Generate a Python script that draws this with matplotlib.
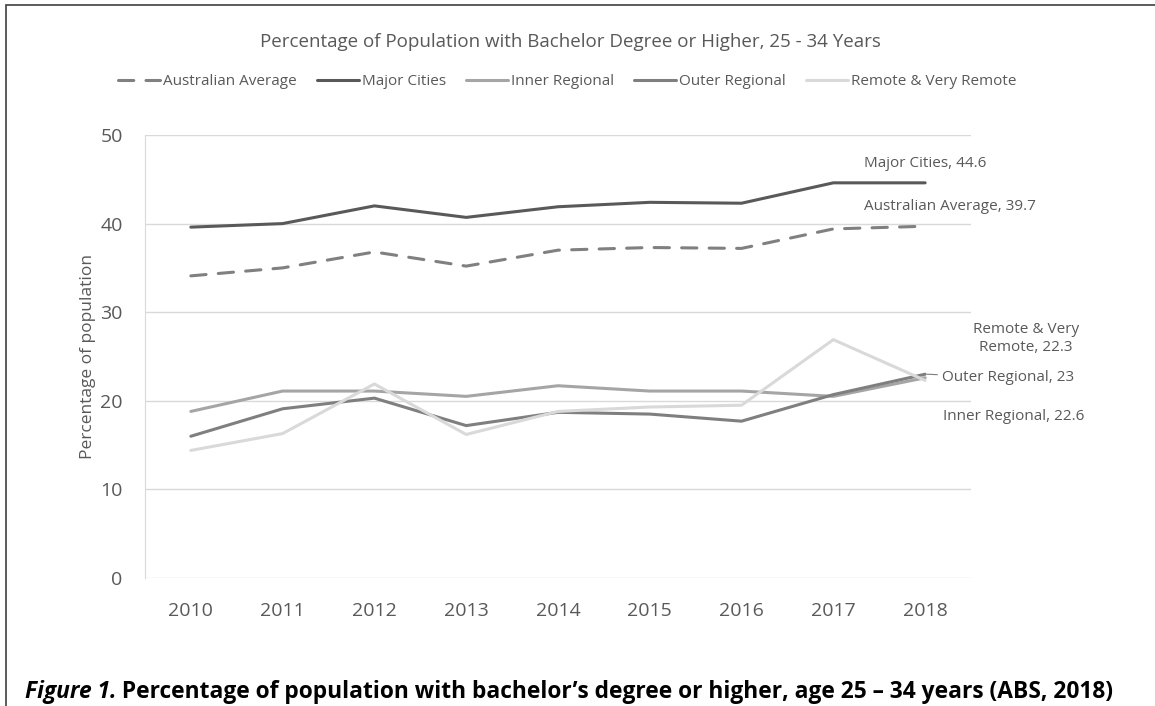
import numpy as np
import matplotlib
matplotlib.use('Agg')
import matplotlib.pyplot as plt
from matplotlib.patches import Rectangle

plt.rcParams['font.family'] = ['Open Sans', 'DejaVu Sans']

years = ['2010', '2011', '2012', '2013', '2014', '2015', '2016', '2017', '2018']
aus_avg = [34.1, 35.0, 36.8, 35.2, 37.0, 37.3, 37.2, 39.4, 39.7]
major = [39.6, 40.0, 42.0, 40.7, 41.9, 42.4, 42.3, 44.6, 44.6]
inner = [18.8, 21.1, 21.1, 20.5, 21.7, 21.1, 21.1, 20.5, 22.6]
outer = [16.0, 19.1, 20.3, 17.2, 18.7, 18.5, 17.7, 20.7, 23.0]
remote = [14.4, 16.3, 21.9, 16.2, 18.8, 19.3, 19.5, 26.9, 22.3]

txt = '#595959'
grid = '#d9d9d9'

fig = plt.figure(figsize=(11.55, 7.06), dpi=100)
ax = fig.add_axes([0.1255, 0.1813, 0.7152, 0.6275])

x = np.arange(len(years))
lw = 2.2
ax.plot(x, aus_avg, color='#808080', lw=lw, dashes=(5, 4),
        dash_capstyle='round', label='Australian Average', zorder=3)
ax.plot(x, major, color='#595959', lw=lw, solid_capstyle='round',
        label='Major Cities', zorder=3)
ax.plot(x, inner, color='#a5a5a5', lw=lw, solid_capstyle='round',
        label='Inner Regional', zorder=3)
ax.plot(x, outer, color='#7f7f7f', lw=lw, solid_capstyle='round',
        label='Outer Regional', zorder=3)
ax.plot(x, remote, color='#d9d9d9', lw=lw, solid_capstyle='round',
        label='Remote & Very Remote', zorder=3)

ax.set_xlim(-0.5, len(years) - 0.5)
ax.set_ylim(0, 50)
ax.set_yticks([0, 10, 20, 30, 40, 50])
ax.set_xticks(x)
ax.set_xticklabels(years)
ax.tick_params(length=0, labelsize=14, colors=txt)
ax.tick_params(axis='x', pad=17)
ax.tick_params(axis='y', pad=16)
ax.grid(axis='y', color=grid, lw=1)
for s in ['top', 'right', 'bottom']:
    ax.spines[s].set_visible(False)
ax.spines['left'].set_color(grid)
ax.set_axisbelow(True)
ax.set_ylabel('Percentage of population', fontsize=12.5, color=txt)
ax.yaxis.set_label_coords(-0.059, 0.5)

# end labels
ax.text(8, 44.6 + 2.2, 'Major Cities, 44.6', fontsize=11, color=txt,
        ha='center', va='center')
ax.text(8.27, 39.7 + 2.2, 'Australian Average, 39.7', fontsize=11, color=txt,
        ha='center', va='center')
ax.text(9.1, 27.0, 'Remote & Very\nRemote, 22.3', fontsize=11, color=txt,
        ha='center', va='center', linespacing=1.25)
ax.annotate('Outer Regional, 23', xy=(8.02, 23.0), xytext=(8.18, 22.6),
            fontsize=11, color=txt, ha='left', va='center',
            arrowprops=dict(arrowstyle='-', color='#7f7f7f', lw=0.8,
                            shrinkA=1, shrinkB=0))
ax.text(8.19, 18.2, 'Inner Regional, 22.6', fontsize=11, color=txt,
        ha='left', va='center')

fig.text(0.494, 0.9405,
         'Percentage of Population with Bachelor Degree or Higher, 25 - 34 Years',
         fontsize=13.5, color=txt, ha='center', va='center')

leg = fig.legend(loc='center', bbox_to_anchor=(0.491, 0.884), ncol=5,
                 frameon=False, fontsize=11, handlelength=2.75,
                 handletextpad=0.2, columnspacing=1.3)
for t in leg.get_texts():
    t.set_color(txt)

# outer border
fig.patches.append(Rectangle((6 / 1155, -0.1), 1.2, 1.1 - 5 / 706,
                             transform=fig.transFigure, fill=False,
                             ec='#404040', lw=1.2))

# caption
c1 = fig.text(25 / 1155, 0.012, 'Figure 1.', fontsize=16.4, fontweight='bold',
              fontstyle='italic', color='black', ha='left', va='baseline')
cap2 = fig.text(0, 0.012,
                ' Percentage of population with bachelor\u2019s degree or higher, age 25 \u2013 34 years (ABS, 2018)',
                fontsize=16.4, fontweight='bold', color='black', ha='left',
                va='baseline')
fig.canvas.draw()
bb = c1.get_window_extent()
cap2.set_position((bb.x1 / fig.bbox.width, 0.012))

fig.savefig('out.png', dpi=100)
